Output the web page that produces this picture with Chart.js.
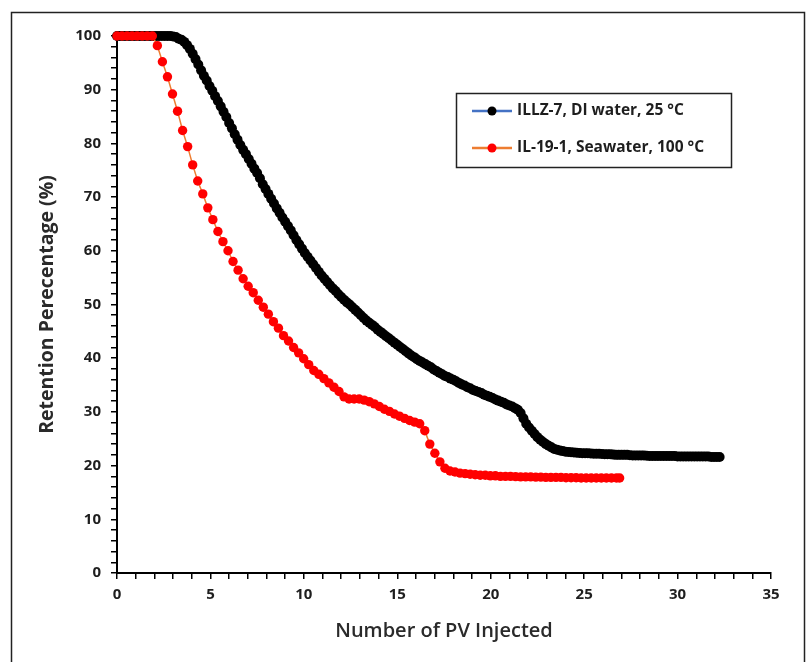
<!DOCTYPE html>
<html>
<head>
<meta charset="utf-8">
<script src="https://cdn.jsdelivr.net/npm/chart.js@4.4.1/dist/chart.umd.min.js"></script>
<style>
  html, body { margin: 0; padding: 0; background: #fff; }
  #wrap { width: 812px; height: 662px; }
</style>
</head>
<body>
<div id="wrap"><canvas id="retention" width="812" height="662"></canvas></div>
<script>
// ILLZ-7, DI water, 25 °C
const illzPV = [
  0, 0.15, 0.3, 0.45, 0.6, 0.75, 0.9, 1.05, 1.2, 1.35,
  1.5, 1.65, 1.8, 1.95, 2.1, 2.25, 2.4, 2.55, 2.7, 2.85,
  3.0, 3.15, 3.3, 3.45, 3.6, 3.75, 3.9, 4.05, 4.2, 4.35,
  4.5, 4.65, 4.8, 4.95, 5.1, 5.25, 5.4, 5.55, 5.7, 5.85,
  6.0, 6.15, 6.3, 6.45, 6.6, 6.75, 6.9, 7.05, 7.2, 7.35,
  7.5, 7.65, 7.8, 7.95, 8.1, 8.25, 8.4, 8.55, 8.7, 8.85,
  9.0, 9.15, 9.3, 9.45, 9.6, 9.75, 9.9, 10.05, 10.2, 10.35,
  10.5, 10.65, 10.8, 10.95, 11.1, 11.25, 11.4, 11.55, 11.7, 11.85,
  12.0, 12.15, 12.3, 12.45, 12.6, 12.75, 12.9, 13.05, 13.2, 13.35,
  13.5, 13.65, 13.8, 13.95, 14.1, 14.25, 14.4, 14.55, 14.7, 14.85,
  15.0, 15.15, 15.3, 15.45, 15.6, 15.75, 15.9, 16.05, 16.2, 16.35,
  16.5, 16.65, 16.8, 16.95, 17.1, 17.25, 17.4, 17.55, 17.7, 17.85,
  18.0, 18.15, 18.3, 18.45, 18.6, 18.75, 18.9, 19.05, 19.2, 19.35,
  19.5, 19.65, 19.8, 19.95, 20.1, 20.25, 20.4, 20.55, 20.7, 20.85,
  21.0, 21.15, 21.3, 21.45, 21.6, 21.75, 21.9, 22.05, 22.2, 22.35,
  22.5, 22.65, 22.8, 22.95, 23.1, 23.25, 23.4, 23.55, 23.7, 23.85,
  24.0, 24.15, 24.3, 24.45, 24.6, 24.75, 24.9, 25.05, 25.2, 25.35,
  25.5, 25.65, 25.8, 25.95, 26.1, 26.25, 26.4, 26.55, 26.7, 26.85,
  27.0, 27.15, 27.3, 27.45, 27.6, 27.75, 27.9, 28.05, 28.2, 28.35,
  28.5, 28.65, 28.8, 28.95, 29.1, 29.25, 29.4, 29.55, 29.7, 29.85,
  30.0, 30.15, 30.3, 30.45, 30.6, 30.75, 30.9, 31.05, 31.2, 31.35,
  31.5, 31.65, 31.8, 31.95, 32.1, 32.25];
const illzRetention = [
  100, 100, 100, 100, 100, 100, 100, 100, 100, 100,
  100, 100, 100, 100, 100, 100, 100, 100, 100, 100,
  99.9, 99.8, 99.5, 99.3, 98.9, 98.3, 97.6, 96.7, 95.7, 94.7,
  93.6, 92.6, 91.7, 90.7, 89.8, 88.8, 87.9, 86.9, 85.9, 84.9,
  83.8, 82.8, 81.7, 80.7, 79.7, 78.8, 78.0, 77.1, 76.2, 75.3,
  74.5, 73.5, 72.4, 71.5, 70.6, 69.7, 68.8, 67.9, 67.1, 66.2,
  65.4, 64.6, 63.8, 62.9, 62.0, 61.2, 60.4, 59.6, 58.9, 58.2,
  57.5, 56.8, 56.1, 55.4, 54.8, 54.2, 53.6, 53.0, 52.5, 51.9,
  51.4, 50.9, 50.4, 50.0, 49.5, 49.0, 48.5, 48.0, 47.5, 47.0,
  46.6, 46.2, 45.8, 45.3, 44.9, 44.5, 44.1, 43.7, 43.3, 42.9,
  42.5, 42.1, 41.7, 41.3, 40.9, 40.5, 40.2, 39.8, 39.5, 39.2,
  38.9, 38.6, 38.3, 37.9, 37.6, 37.3, 37.0, 36.7, 36.5, 36.2,
  36.0, 35.7, 35.4, 35.1, 34.9, 34.6, 34.4, 34.1, 33.9, 33.7,
  33.5, 33.2, 33.0, 32.8, 32.6, 32.3, 32.1, 31.9, 31.7, 31.4,
  31.2, 31.0, 30.7, 30.4, 29.8, 28.8, 27.8, 27.1, 26.5, 25.9,
  25.3, 24.8, 24.4, 24.0, 23.7, 23.4, 23.1, 22.95, 22.8, 22.7,
  22.6, 22.55, 22.5, 22.45, 22.4, 22.35, 22.3, 22.3, 22.3, 22.25,
  22.2, 22.2, 22.2, 22.15, 22.1, 22.1, 22.1, 22.05, 22.0, 22.0,
  22.0, 22.0, 22.0, 21.95, 21.9, 21.9, 21.9, 21.9, 21.9, 21.85,
  21.8, 21.8, 21.8, 21.8, 21.8, 21.8, 21.8, 21.8, 21.8, 21.8,
  21.7, 21.7, 21.7, 21.7, 21.7, 21.7, 21.7, 21.7, 21.7, 21.7,
  21.7, 21.7, 21.6, 21.6, 21.6, 21.6];

// IL-19-1, Seawater, 100 °C
const ilPV = [0, 0.27, 0.54, 0.81, 1.08, 1.35, 1.62, 1.89, 2.16, 2.43, 2.70, 2.97, 3.24, 3.51, 3.78, 4.05, 4.32, 4.59, 4.86, 5.13,
  5.40, 5.67, 5.94, 6.21, 6.48, 6.75, 7.02, 7.29, 7.56, 7.83, 8.10, 8.37, 8.64, 8.91, 9.18, 9.45, 9.72, 9.99, 10.26, 10.53,
  10.80, 11.07, 11.34, 11.61, 11.88, 12.15, 12.42, 12.69, 12.96, 13.23, 13.50, 13.77, 14.04, 14.31, 14.58, 14.85, 15.12, 15.39, 15.66, 15.93,
  16.20, 16.47, 16.74, 17.01, 17.28, 17.55, 17.82, 18.09, 18.36, 18.63, 18.90, 19.17, 19.44, 19.71, 19.98, 20.25, 20.52, 20.79, 21.06, 21.33,
  21.60, 21.87, 22.14, 22.41, 22.68, 22.95, 23.22, 23.49, 23.76, 24.03, 24.30, 24.57, 24.84, 25.11, 25.38, 25.65, 25.92, 26.19, 26.46, 26.73, 26.9];
const ilRetention = [100, 100, 100, 100, 100, 100, 100, 100, 98.2, 95.2, 92.4, 89.2, 86.0, 82.4, 79.4, 76.0, 73.0, 70.6, 68.0, 65.8,
  63.6, 61.7, 60.0, 58.0, 56.4, 54.8, 53.4, 52.2, 50.8, 49.5, 48.2, 46.8, 45.6, 44.2, 43.2, 42.0, 41.0, 39.9, 38.8, 37.7,
  37.0, 36.2, 35.4, 34.6, 33.8, 32.8, 32.4, 32.4, 32.4, 32.2, 31.9, 31.5, 31.0, 30.5, 30.1, 29.6, 29.2, 28.8, 28.4, 28.1,
  27.8, 26.5, 24.0, 22.3, 20.7, 19.5, 19.0, 18.8, 18.6, 18.5, 18.4, 18.3, 18.2, 18.2, 18.1, 18.1, 18.0, 18.0, 18.0, 17.95,
  17.9, 17.9, 17.9, 17.85, 17.85, 17.8, 17.8, 17.8, 17.8, 17.75, 17.75, 17.75, 17.7, 17.7, 17.7, 17.7, 17.7, 17.7, 17.7, 17.7, 17.7];

const seriesNames = ['ILLZ-7, DI water, 25 °C', 'IL-19-1, Seawater, 100 °C'];

const toPoints = (xs, ys) => xs.map((x, i) => ({ x: x, y: ys[i] }));

const textColor = '#1e1e1e';
const fontFamily = '"Open Sans", Lato, "Liberation Sans", sans-serif';

// outer frame around the whole chart
const framePlugin = {
    id: 'frame',
    afterDraw(chart) {
        const ctx = chart.ctx;
        ctx.save();
        ctx.strokeStyle = '#222';
        ctx.lineWidth = 1.5;
        ctx.strokeRect(11.5, 12.5, 793, 670);
        ctx.restore();
    }
};

// boxed legend inside the plot, line + marker symbol like Excel
const boxLegend = {
    id: 'boxLegend',
    afterDraw(chart) {
        const ctx = chart.ctx;
        const area = chart.chartArea;
        const bx = area.left + 339, by = area.top + 57, bw = 275, bh = 74;
        ctx.save();
        ctx.strokeStyle = '#222';
        ctx.lineWidth = 1.5;
        ctx.strokeRect(bx + 0.5, by + 0.5, bw, bh);
        chart.data.datasets.forEach((ds, i) => {
            const y = by + 18 + i * 37;
            ctx.strokeStyle = ds.borderColor;
            ctx.lineWidth = 2.5;
            ctx.beginPath();
            ctx.moveTo(bx + 16, y);
            ctx.lineTo(bx + 56, y);
            ctx.stroke();
            ctx.fillStyle = ds.pointBackgroundColor;
            ctx.beginPath();
            ctx.arc(bx + 36, y, 4.5, 0, Math.PI * 2);
            ctx.fill();
            ctx.fillStyle = textColor;
            ctx.font = 'bold 15.5px ' + fontFamily;
            ctx.textBaseline = 'middle';
            ctx.fillText(ds.label, bx + 61, y);
        });
        ctx.restore();
    }
};

const ctx = document.getElementById('retention').getContext('2d');
new Chart(ctx, {
    type: 'scatter',
    data: {
        datasets: [{
            label: seriesNames[0],
            data: toPoints(illzPV, illzRetention),
            showLine: true,
            borderColor: '#4472C4',
            borderWidth: 1.5,
            pointBackgroundColor: '#000000',
            pointBorderColor: '#000000',
            pointRadius: 5,
            pointBorderWidth: 0,
            tension: 0,
            clip: false,
            order: 1
        }, {
            label: seriesNames[1],
            data: toPoints(ilPV, ilRetention),
            showLine: true,
            borderColor: '#ED7D31',
            borderWidth: 1.5,
            pointBackgroundColor: '#FF0000',
            pointBorderColor: '#FF0000',
            pointRadius: 4.7,
            pointBorderWidth: 0,
            tension: 0,
            clip: false,
            order: 0
        }]
    },
    options: {
        responsive: false,
        animation: false,
        devicePixelRatio: 1,
        layout: { padding: { left: 0, top: 36, right: 41, bottom: 0 } },
        plugins: {
            legend: { display: false },
            tooltip: { enabled: false }
        },
        scales: {
            x: {
                type: 'linear',
                min: 0,
                max: 35,
                border: { display: true, color: '#000', width: 2 },
                grid: { drawOnChartArea: false, drawTicks: true, tickLength: 6, color: '#000', lineWidth: 1.5 },
                ticks: {
                    stepSize: 1,
                    autoSkip: false,
                    maxRotation: 0,
                    padding: 7,
                    color: textColor,
                    font: { family: fontFamily, size: 15, weight: 'bold' },
                    callback: v => (v % 5 === 0 ? v : '')
                },
                title: {
                    display: true,
                    text: 'Number of PV Injected',
                    color: '#2a2a2a',
                    font: { family: fontFamily, size: 20, weight: 600 },
                    padding: { top: 4, bottom: 19 }
                },
                afterFit(scale) { scale.height = 89; }
            },
            y: {
                min: 0,
                max: 100,
                border: { display: true, color: '#000', width: 2 },
                grid: { drawOnChartArea: false, drawTicks: true, tickLength: 6, color: '#000', lineWidth: 1.5 },
                ticks: {
                    stepSize: 2,
                    autoSkip: false,
                    padding: 10,
                    color: textColor,
                    font: { family: fontFamily, size: 15, weight: 'bold' },
                    callback: v => (v % 10 === 0 ? v : '')
                },
                title: {
                    display: true,
                    text: 'Retention Perecentage (%)',
                    color: '#2a2a2a',
                    font: { family: fontFamily, size: 19.5, weight: 'bold' },
                    padding: { top: 36, bottom: 4 }
                },
                afterFit(scale) { scale.width = 117; }
            }
        }
    },
    plugins: [framePlugin, boxLegend]
});
</script>
</body>
</html>
